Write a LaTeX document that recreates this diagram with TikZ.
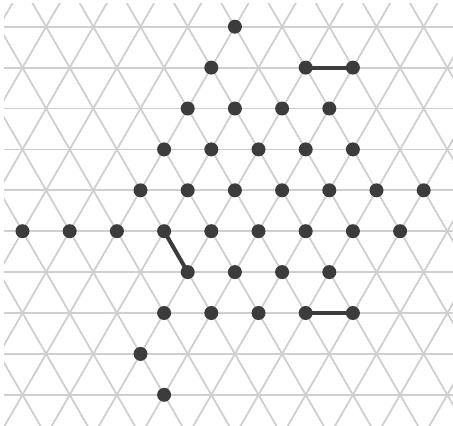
\documentclass[tikz,border=0pt]{standalone}
\definecolor{gridgray}{HTML}{CFCFCF}
\definecolor{dotgray}{HTML}{3C3C3C}
\tikzset{
  gridline/.style={draw=gridgray, line width=1.8pt},
  dotnode/.style={circle, fill=dotgray, inner sep=0pt, minimum size=14pt},
  bond/.style={draw=dotgray, line width=4pt}
}
\begin{document}
\begin{tikzpicture}[x=1pt,y=-1pt]
\useasboundingbox (0,0) rectangle (453,426);
\begin{scope}
\clip (4,3) rectangle (453,426);
\foreach \r in {-1,...,10}{
  \draw[gridline] (-10,{26.7+\r*40.9}) -- (470,{26.7+\r*40.9});
}
\foreach \k in {-10,...,20}{
  \draw[gridline] ({22.5+\k*47.2-12*23.6},{231.2-12*40.9}) -- ({22.5+\k*47.2+12*23.6},{231.2+12*40.9});
  \draw[gridline] ({22.5+\k*47.2+12*23.6},{231.2-12*40.9}) -- ({22.5+\k*47.2-12*23.6},{231.2+12*40.9});
}
\end{scope}
\foreach \r/\m in {0/9, 1/8,1/12,1/14, 2/7,2/9,2/11,2/13, 3/6,3/8,3/10,3/12,3/14,
  4/5,4/7,4/9,4/11,4/13,4/15,4/17,
  5/0,5/2,5/4,5/6,5/8,5/10,5/12,5/14,5/16,
  6/7,6/9,6/11,6/13, 7/6,7/8,7/10,7/12,7/14, 8/5, 9/6}{
  \coordinate (c-\r-\m) at ({22.5+\m*23.6},{26.7+\r*40.9});
}
\draw[bond] (c-1-12) -- (c-1-14);
\draw[bond] (c-5-6) -- (c-6-7);
\draw[bond] (c-7-12) -- (c-7-14);
\foreach \r/\m in {0/9, 1/8,1/12,1/14, 2/7,2/9,2/11,2/13, 3/6,3/8,3/10,3/12,3/14,
  4/5,4/7,4/9,4/11,4/13,4/15,4/17,
  5/0,5/2,5/4,5/6,5/8,5/10,5/12,5/14,5/16,
  6/7,6/9,6/11,6/13, 7/6,7/8,7/10,7/12,7/14, 8/5, 9/6}{
  \node[dotnode] (p-\r-\m) at (c-\r-\m) {};
}
\end{tikzpicture}
\end{document}
